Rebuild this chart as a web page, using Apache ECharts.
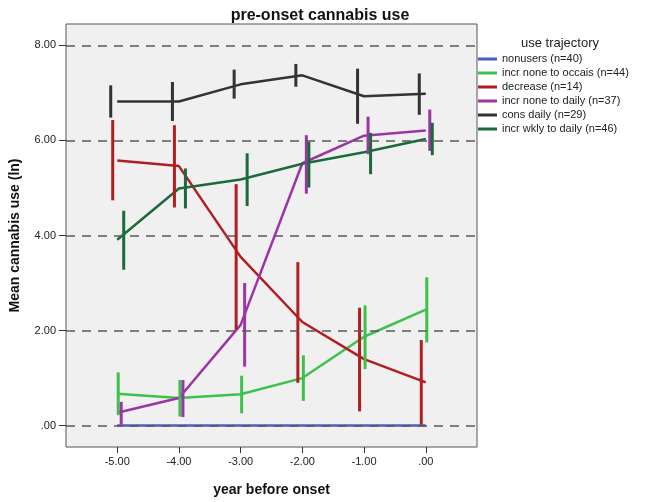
<!DOCTYPE html>
<html>
<head>
<meta charset="utf-8">
<script src="https://cdn.jsdelivr.net/npm/echarts@6/dist/echarts.min.js"></script>
<style>html,body{margin:0;padding:0;background:#fff}#c{width:645px;height:502px}</style>
</head>
<body>
<div id="c"></div>
<script>
// ---- data ----
const years = [-5, -4, -3, -2, -1, 0];
const yTicks = [0, 2, 4, 6, 8];
const seriesNames = ['nonusers (n=40)', 'incr none to occais (n=44)', 'decrease (n=14)', 'incr none to daily (n=37)', 'cons daily (n=29)', 'incr wkly to daily (n=46)'];

const nonusersMean = [0, 0, 0, 0, 0, 0];

const occasMean = [0.67, 0.58, 0.66, 1.00, 1.87, 2.44];
const occasLow  = [0.22, 0.19, 0.26, 0.52, 1.19, 1.75];
const occasHigh = [1.12, 0.96, 1.05, 1.48, 2.53, 3.12];

const decreaseMean = [5.58, 5.46, 3.55, 2.18, 1.40, 0.91];
const decreaseLow  = [4.74, 4.59, 2.02, 0.90, 0.30, 0.02];
const decreaseHigh = [6.43, 6.32, 5.08, 3.44, 2.48, 1.80];

const dailyMean = [0.27, 0.58, 2.12, 5.52, 6.10, 6.21];
const dailyLow  = [0.02, 0.18, 1.24, 4.88, 5.71, 5.78];
const dailyHigh = [0.50, 0.96, 3.00, 6.11, 6.50, 6.65];

const consMean = [6.82, 6.82, 7.18, 7.37, 6.93, 6.98];
const consLow  = [6.48, 6.41, 6.88, 7.13, 6.35, 6.54];
const consHigh = [7.16, 7.23, 7.49, 7.61, 7.51, 7.41];

const wklyMean = [3.91, 4.99, 5.18, 5.51, 5.75, 6.03];
const wklyLow  = [3.28, 4.57, 4.62, 5.01, 5.29, 5.69];
const wklyHigh = [4.52, 5.41, 5.73, 5.97, 6.16, 6.37];

// ---- styles ----
const colors = ['#4b5cc4', '#3cc24a', '#b01e22', '#9b35a6', '#333333', '#1b6b3a'];
const barOffsets = [0, 1, -4.5, 4, -6.5, 6.5]; // px horizontal offset of error bars
const FONT = 'Liberation Sans, Arial, sans-serif';

function fmt(v) {
  if (v === 0) return '.00';
  return v.toFixed(2);
}

const groups = [
  { mean: nonusersMean, low: null, high: null },
  { mean: occasMean, low: occasLow, high: occasHigh },
  { mean: decreaseMean, low: decreaseLow, high: decreaseHigh },
  { mean: dailyMean, low: dailyLow, high: dailyHigh },
  { mean: consMean, low: consLow, high: consHigh },
  { mean: wklyMean, low: wklyLow, high: wklyHigh }
];

const series = [];
// dashed reference lines
series.push({
  type: 'line', name: '_grid', data: [], z: 1, silent: true,
  markLine: {
    silent: true, symbol: ['none', 'none'], animation: false,
    label: { show: false },
    lineStyle: { type: [9, 7], color: '#5a5a5a', width: 1.5 },
    emphasis: { disabled: true },
    data: yTicks.map(v => ({ yAxis: v }))
  }
});

groups.forEach((g, gi) => {
  series.push({
    type: 'line', name: seriesNames[gi],
    data: years.map((x, i) => [x, g.mean[i]]),
    symbol: 'none', z: 3,
    lineStyle: { color: colors[gi], width: 2.5 },
    itemStyle: { color: colors[gi] }
  });
  if (g.low) {
    const off = barOffsets[gi];
    const col = colors[gi];
    series.push({
      type: 'custom', name: seriesNames[gi], z: 4,
      data: years.map((x, i) => [x, g.low[i], g.high[i]]),
      renderItem: function (params, api) {
        const p1 = api.coord([api.value(0), api.value(1)]);
        const p2 = api.coord([api.value(0), api.value(2)]);
        return {
          type: 'line',
          shape: { x1: p1[0] + off, y1: p1[1], x2: p2[0] + off, y2: p2[1] },
          style: { stroke: col, lineWidth: 3 }
        };
      }
    });
  }
});

const chart = echarts.init(document.getElementById('c'), null, { renderer: 'canvas' });
chart.setOption({
  animation: false,
  textStyle: { fontFamily: FONT },
  color: colors,
  title: [
    { text: 'pre-onset cannabis use', left: 315, top: 3, textAlign: 'center',
      textStyle: { fontSize: 16, fontWeight: 'bold', color: '#111', fontFamily: FONT } },
    { text: 'use trajectory', left: 555, top: 32, textAlign: 'center',
      textStyle: { fontSize: 13, fontWeight: 'normal', color: '#222', fontFamily: FONT } }
  ],
  legend: {
    data: seriesNames, orient: 'vertical', left: 478, top: 52, padding: 0,
    itemGap: 0, itemWidth: 19, itemHeight: 3, icon: 'rect', selectedMode: false,
    textStyle: { fontSize: 11, lineHeight: 14, color: '#222', fontFamily: FONT }
  },
  grid: {
    left: 58, top: 24, width: 419, height: 425, show: true,
    backgroundColor: '#f0f0f0', borderColor: '#555', borderWidth: 1
  },
  xAxis: {
    type: 'value', min: -5.83, max: 0.83,
    name: 'year before onset', nameLocation: 'middle', nameGap: 36,
    nameTextStyle: { fontSize: 14, fontWeight: 'bold', color: '#111', fontFamily: FONT },
    axisLine: { show: false, onZero: false },
    axisTick: { show: true, customValues: years, length: 6, lineStyle: { color: '#333', width: 1 } },
    axisLabel: { customValues: years, formatter: fmt, fontSize: 11, color: '#222', margin: 9 },
    splitLine: { show: false }
  },
  yAxis: {
    type: 'value', min: -0.45, max: 8.45,
    name: 'Mean cannabis use (ln)', nameLocation: 'middle', nameGap: 44, nameRotate: 90,
    nameTextStyle: { fontSize: 14, fontWeight: 'bold', color: '#111', fontFamily: FONT },
    axisLine: { show: false, onZero: false },
    axisTick: { show: true, customValues: yTicks, length: 7, lineStyle: { color: '#333', width: 1 } },
    axisLabel: { customValues: yTicks, formatter: fmt, fontSize: 11, color: '#222', margin: 10 },
    splitLine: { show: false }
  },
  series: series
});
</script>
</body>
</html>
